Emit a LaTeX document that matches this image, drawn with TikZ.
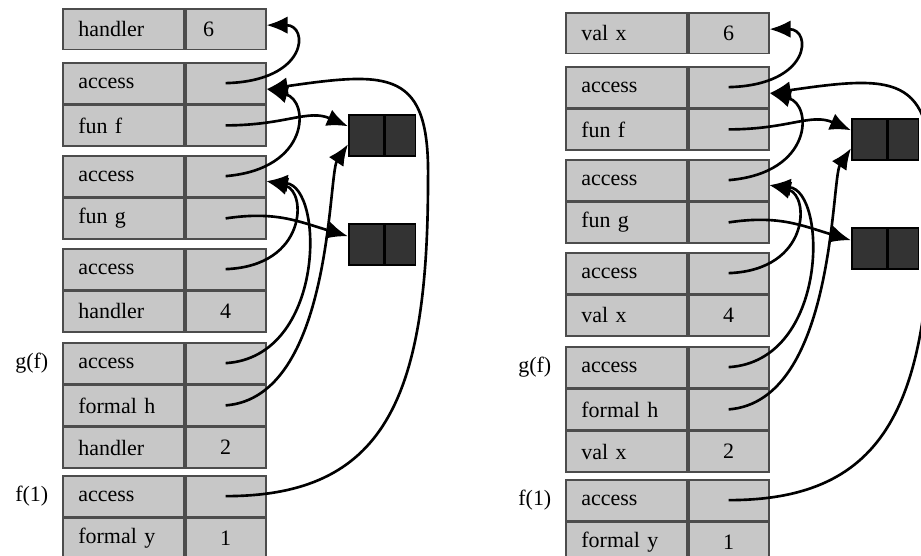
\documentclass[tikz,border=0pt]{standalone}
\usepackage{fontspec}
\setmainfont{Liberation Serif}
\usetikzlibrary{positioning,arrows.meta}

\begin{document}
\begin{tikzpicture}[
    cell/.style={draw=black!70, fill=black!22, line width=1pt, minimum height=0.81cm, inner sep=0pt, font=\fontsize{12.5}{14}\selectfont},
    lbl/.style={cell, minimum width=2.42cm, text width=1.8cm, align=left},
    val/.style={cell, minimum width=1.6cm},
    clo/.style={draw=black, fill=black!80, line width=0.9pt, minimum height=0.82cm, inner sep=0pt},
    ptr/.style={line width=1.5pt, -{Latex[length=12pt,width=10pt]}},
    call/.style={font=\fontsize{12.5}{14}\selectfont}
]
    \useasboundingbox (0,0) rectangle (18.42,11.1);
    \begin{scope}
        \node[lbl, anchor=north west] (L-n1) at (1.24,10.94) {handler};
        \node[val, right=0pt of L-n1, text width=0.9cm, align=left] (L-v1) {6};
        \node[lbl, anchor=north west] (L-n2) at (1.24,9.86) {access};
        \node[val, right=0pt of L-n2] (L-v2) {};
        \node[lbl, below=0pt of L-n2] (L-n3) {fun f};
        \node[val, right=0pt of L-n3] (L-v3) {};
        \node[lbl, anchor=north west] (L-n4) at (1.24,8.0) {access};
        \node[val, right=0pt of L-n4] (L-v4) {};
        \node[lbl, below=0pt of L-n4] (L-n5) {fun g};
        \node[val, right=0pt of L-n5] (L-v5) {};
        \node[lbl, anchor=north west] (L-n6) at (1.24,6.14) {access};
        \node[val, right=0pt of L-n6] (L-v6) {};
        \node[lbl, below=0pt of L-n6] (L-n7) {handler};
        \node[val, right=0pt of L-n7] (L-v7) {4};
        \node[lbl, anchor=north west] (L-n8) at (1.24,4.26) {access};
        \node[val, right=0pt of L-n8] (L-v8) {};
        \node[lbl, below=0pt of L-n8] (L-n9) {formal h};
        \node[val, right=0pt of L-n9] (L-v9) {};
        \node[lbl, below=0pt of L-n9] (L-n10) {handler};
        \node[val, right=0pt of L-n10] (L-v10) {2};
        \node[lbl, anchor=north west] (L-n11) at (1.24,1.6) {access};
        \node[val, right=0pt of L-n11] (L-v11) {};
        \node[lbl, below=0pt of L-n11] (L-n12) {formal y};
        \node[val, right=0pt of L-n12] (L-v12) {1};
        \node[call, left=0.15cm of L-n8] (L-g) {g(f)};
        \node[call, left=0.15cm of L-n11] (L-f) {f(1)};
        \node[clo, anchor=north west, minimum width=0.7cm] (L-c1) at (6.96,8.82) {};
        \node[clo, right=0pt of L-c1, minimum width=0.6cm] (L-c1r) {};
        \node[clo, anchor=north west, minimum width=0.7cm] (L-c2) at (6.96,6.64) {};
        \node[clo, right=0pt of L-c2, minimum width=0.6cm] (L-c2r) {};
        \coordinate (L-bend) at (8.56,7.5);
        \draw[ptr] (L-v2.center) .. controls +(1.66,0.04) and +(0.85,0) .. ([yshift=0.08cm]L-v1.east);
        \draw[ptr] (L-v4.center) .. controls +(1.7,0.14) and +(0.86,-0.23) .. ([yshift=-0.12cm]L-v2.east);
        \draw[ptr] (L-v3.center) .. controls +(1.2,0) and +(-0.8,0.35) .. ([yshift=0.18cm]L-c1.west);
        \draw[ptr] (L-v5.center) .. controls +(1.0,0.15) and +(-1.0,0.3) .. ([yshift=0.16cm]L-c2.west);
        \draw[ptr] (L-v6.center) .. controls +(1.64,0.06) and +(0.8,-0.2) .. ([yshift=-0.1cm]L-v4.east);
        \draw[ptr] (L-v8.center) .. controls +(2.0,0.12) and +(1.16,-0.12) .. ([yshift=-0.1cm]L-v4.east);
        \draw[ptr] (L-v9.center) .. controls +(2.14,0.16) and +(-0.4,-0.6) .. ([yshift=-0.18cm]L-c1.west);
        \draw[ptr] (L-v11.center) .. controls +(3.16,0) and +(0,-4.4) .. (L-bend)
            .. controls +(0.04,2.2) and +(2.48,0.36) .. ([yshift=-0.12cm]L-v2.east);
    \end{scope}
    \begin{scope}[xshift=10.06cm, yshift=-0.08cm]
        \node[lbl, anchor=north west] (R-n1) at (1.24,10.94) {val x};
        \node[val, right=0pt of R-n1] (R-v1) {6};
        \node[lbl, anchor=north west] (R-n2) at (1.24,9.86) {access};
        \node[val, right=0pt of R-n2] (R-v2) {};
        \node[lbl, below=0pt of R-n2] (R-n3) {fun f};
        \node[val, right=0pt of R-n3] (R-v3) {};
        \node[lbl, anchor=north west] (R-n4) at (1.24,8.0) {access};
        \node[val, right=0pt of R-n4] (R-v4) {};
        \node[lbl, below=0pt of R-n4] (R-n5) {fun g};
        \node[val, right=0pt of R-n5] (R-v5) {};
        \node[lbl, anchor=north west] (R-n6) at (1.24,6.14) {access};
        \node[val, right=0pt of R-n6] (R-v6) {};
        \node[lbl, below=0pt of R-n6] (R-n7) {val x};
        \node[val, right=0pt of R-n7] (R-v7) {4};
        \node[lbl, anchor=north west] (R-n8) at (1.24,4.26) {access};
        \node[val, right=0pt of R-n8] (R-v8) {};
        \node[lbl, below=0pt of R-n8] (R-n9) {formal h};
        \node[val, right=0pt of R-n9] (R-v9) {};
        \node[lbl, below=0pt of R-n9] (R-n10) {val x};
        \node[val, right=0pt of R-n10] (R-v10) {2};
        \node[lbl, anchor=north west] (R-n11) at (1.24,1.6) {access};
        \node[val, right=0pt of R-n11] (R-v11) {};
        \node[lbl, below=0pt of R-n11] (R-n12) {formal y};
        \node[val, right=0pt of R-n12] (R-v12) {1};
        \node[call, left=0.15cm of R-n8] (R-g) {g(f)};
        \node[call, left=0.15cm of R-n11] (R-f) {f(1)};
        \node[clo, anchor=north west, minimum width=0.7cm] (R-c1) at (6.96,8.82) {};
        \node[clo, right=0pt of R-c1, minimum width=0.6cm] (R-c1r) {};
        \node[clo, anchor=north west, minimum width=0.7cm] (R-c2) at (6.96,6.64) {};
        \node[clo, right=0pt of R-c2, minimum width=0.6cm] (R-c2r) {};
        \coordinate (R-bend) at (8.56,7.5);
        \draw[ptr] (R-v2.center) .. controls +(1.66,0.04) and +(0.85,0) .. ([yshift=0.08cm]R-v1.east);
        \draw[ptr] (R-v4.center) .. controls +(1.7,0.14) and +(0.86,-0.23) .. ([yshift=-0.12cm]R-v2.east);
        \draw[ptr] (R-v3.center) .. controls +(1.2,0) and +(-0.8,0.35) .. ([yshift=0.18cm]R-c1.west);
        \draw[ptr] (R-v5.center) .. controls +(1.0,0.15) and +(-1.0,0.3) .. ([yshift=0.16cm]R-c2.west);
        \draw[ptr] (R-v6.center) .. controls +(1.64,0.06) and +(0.8,-0.2) .. ([yshift=-0.1cm]R-v4.east);
        \draw[ptr] (R-v8.center) .. controls +(2.0,0.12) and +(1.16,-0.12) .. ([yshift=-0.1cm]R-v4.east);
        \draw[ptr] (R-v9.center) .. controls +(2.14,0.16) and +(-0.4,-0.6) .. ([yshift=-0.18cm]R-c1.west);
        \draw[ptr] (R-v11.center) .. controls +(3.16,0) and +(0,-4.4) .. (R-bend)
            .. controls +(0.04,2.2) and +(2.48,0.36) .. ([yshift=-0.12cm]R-v2.east);
    \end{scope}
\end{tikzpicture}
\end{document}
